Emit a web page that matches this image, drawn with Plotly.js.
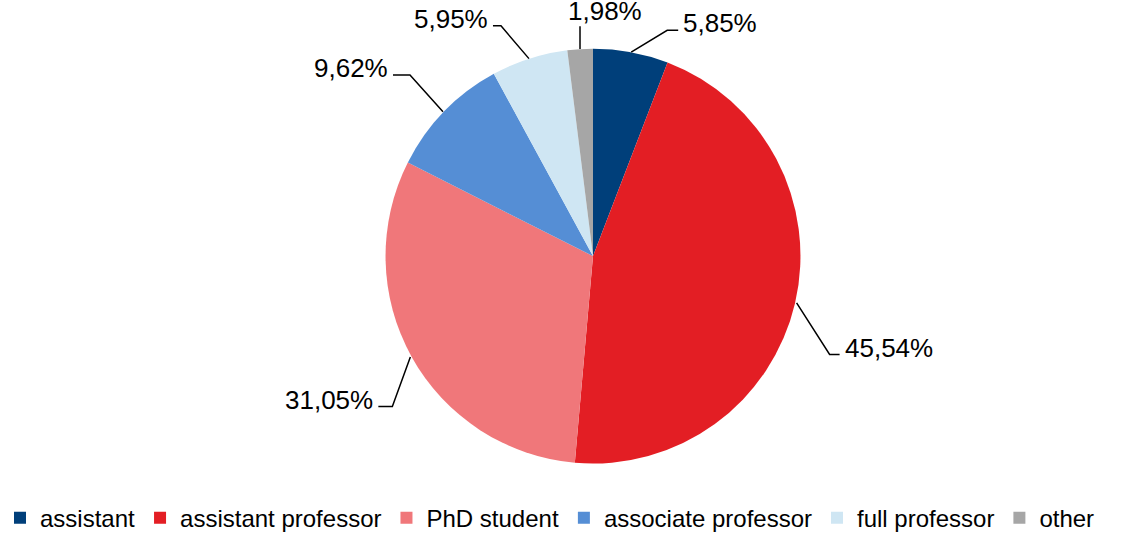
<!DOCTYPE html>
<html>
<head>
<meta charset="utf-8">
<script src="https://cdn.plot.ly/plotly-3.0.1.min.js"></script>
<style>html,body{margin:0;padding:0;background:#fff;}#chart{width:1121px;height:541px;}</style>
</head>
<body>
<div id="chart"></div>
<script>
// ---- data ----
const categories = ['assistant', 'assistant professor', 'PhD student', 'associate professor', 'full professor', 'other'];
const shares = [5.85, 45.54, 31.05, 9.62, 5.95, 1.98];
const sliceColors = ['#003F7A', '#E31E24', '#F0777A', '#558ED5', '#CFE6F3', '#A6A6A6'];

// ---- label layout (pixel offsets of leader-line elbows from slice edge) ----
const elbowOffset = [[36, -22], [33, 52], [-18, 50], [-33, -37], [-28, -33], [0, -23]];
const tailLength = [11, 10, -14, -17, -8, 0];

const W = 1121, H = 541;
const cx = 593, cy = 258, R = 209;
const font = 'Liberation Sans, Arial, sans-serif';

const fmt = v => v.toFixed(2).replace('.', ',') + '%';
const px = x => x / W;
const py = y => 1 - y / H;

const total = shares.reduce((a, b) => a + b, 0);
const shapes = [];
const annotations = [];
let cum = 0;
shares.forEach((v, i) => {
  const mid = cum + v / 2;
  cum += v;
  const theta = Math.PI / 2 - (mid / total) * 2 * Math.PI;
  const ex = cx + R * Math.cos(theta);
  const ey = cy - R * Math.sin(theta);
  const bx = ex + elbowOffset[i][0];
  const by = ey + elbowOffset[i][1];
  const tx = bx + tailLength[i];
  shapes.push({
    type: 'path', xref: 'paper', yref: 'paper',
    path: `M${px(ex)},${py(ey)} L${px(bx)},${py(by)} L${px(tx)},${py(by)}`,
    line: {color: '#000', width: 1.5}
  });
  let ann;
  if (tailLength[i] === 0) {
    ann = {x: px(tx + 25), y: py(by - 15), xanchor: 'center', yanchor: 'middle'};
  } else if (tailLength[i] > 0) {
    ann = {x: px(tx + 3), y: py(by - 7), xanchor: 'left', yanchor: 'middle'};
  } else {
    ann = {x: px(tx - 3), y: py(by - 7), xanchor: 'right', yanchor: 'middle'};
  }
  annotations.push(Object.assign(ann, {
    xref: 'paper', yref: 'paper', showarrow: false, text: fmt(v),
    font: {family: font, size: 26, color: '#000'}
  }));
});

const trace = {
  type: 'pie',
  labels: categories,
  values: shares,
  sort: false,
  direction: 'clockwise',
  rotation: 0,
  textinfo: 'none',
  hoverinfo: 'label+percent',
  marker: {colors: sliceColors, line: {width: 0}},
  domain: {x: [px(cx - R), px(cx + R)], y: [py(cy + R), py(cy - R)]}
};

const layout = {
  width: W, height: H,
  margin: {l: 0, r: 0, t: 0, b: 0},
  paper_bgcolor: '#fff',
  showlegend: true,
  legend: {
    orientation: 'h', x: 0, xanchor: 'left', y: py(522), yanchor: 'middle',
    font: {family: font, size: 24, color: '#000'},
    itemwidth: 30, traceorder: 'normal'
  },
  shapes: shapes,
  annotations: annotations
};

Plotly.newPlot('chart', [trace], layout, {displayModeBar: false, staticPlot: true});
</script>
</body>
</html>
